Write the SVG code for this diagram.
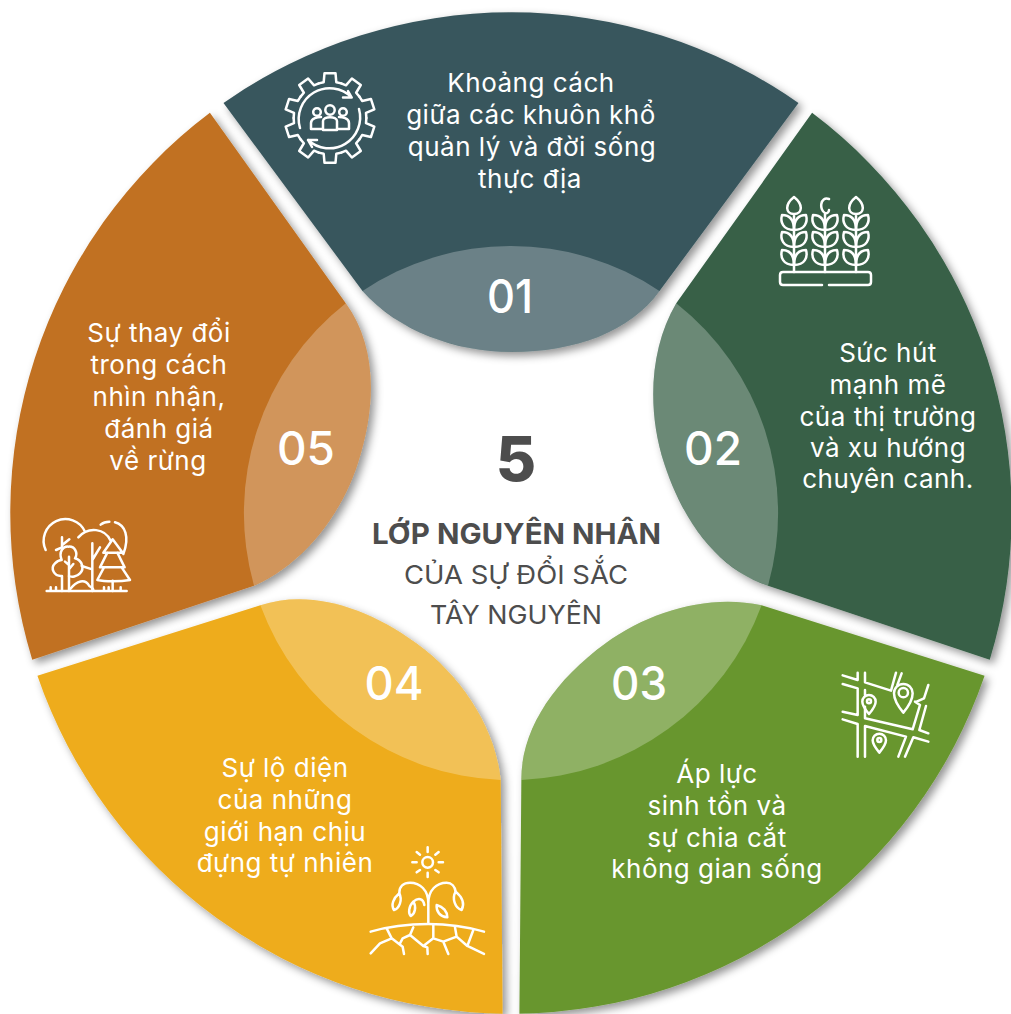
<svg xmlns="http://www.w3.org/2000/svg" xmlns:xlink="http://www.w3.org/1999/xlink" width="1011" height="1014" viewBox="0 0 1011 1014">
<style>
text{font-family:"Inter","Noto Sans","Liberation Sans",sans-serif;text-anchor:middle}
.t{font-size:26px;fill:#fff;font-weight:400;letter-spacing:.5px}
.n{font-size:47px;fill:#fff;font-weight:500}
.c{fill:#4d4d4d}
.ic{fill:none;stroke:#fff;stroke-width:7.5;stroke-linecap:round;stroke-linejoin:round}
.ic1{fill:none;stroke:#fff;stroke-width:2.5;stroke-linecap:round;stroke-linejoin:round}
.lite{fill:#fff;fill-opacity:.26}
</style>
<defs>
<filter id="sh" x="-10%" y="-10%" width="120%" height="120%"><feDropShadow dx="4" dy="4" stdDeviation="4" flood-color="#000" flood-opacity=".42"/></filter>
<path id="seg" d="M223.500 103A501 501 0 0 1 798.500 103L659.500 291C630 332 575 352 511 352C456 352 398 331 362.500 291Z"/>
<path id="lobe" d="M659.500 291C630 332 575 352 511 352C456 352 398 331 362.500 291A267 267 0 0 1 659.500 291Z"/>
<path id="tooth" d="M-11.200 -34.600L-6.300 -35.800L-5.500 -44.800H5.500L6.300 -35.800L11.200 -34.600"/>
<path id="leaf" d="M0 0C-11 0-14-8-12-15C-4-15 0-10 0 0ZM0 0C11 0 14-8 12-15C4-15 0-10 0 0Z"/>
</defs>
<rect width="1011" height="1014" fill="#fff"/>
<g id="node-05">
<g filter="url(#sh)"><use href="#seg" transform="rotate(288 511 513)" fill="#c17121"/></g>
<use href="#lobe" transform="rotate(288 511 513)" class="lite"/>
<text class="n" x="306" y="465" textLength="58" lengthAdjust="spacingAndGlyphs">05</text>
<text class="t" x="159" y="342">Sự thay đổi</text>
<text class="t" x="159" y="374">trong cách</text>
<text class="t" x="159" y="406">nhìn nhận,</text>
<text class="t" x="159" y="438">đánh giá</text>
<text class="t" x="158" y="470">về rừng</text>
<g class="ic" transform="translate(30 510) scale(.3333)">
<path d="M50 243H290M62 243V232M78 243V232M222 243V232M236 243V232M272 243V232"/>
<path d="M47 120A60 60 0 0 1 165 65M145 82C175 48 225 55 242 92M212 44C220 37 232 35 238 35M255 37C285 45 300 80 280 132"/>
<path d="M96 243V198C72 200 60 175 75 160C85 150 90 150 95 150C85 125 100 108 115 110C135 108 145 130 135 145C155 150 165 175 150 190C140 200 125 202 117 198"/>
<path d="M96 110V82M96 112L78 120M96 106L118 88M117 243V140M117 165L105 155M117 178L130 162"/>
<path d="M187 243V100M187 150L210 112M187 178L155 168"/>
<path d="M120 238C140 212 165 205 178 228C185 232 190 236 190 240"/>
<path d="M248 88L220 128H278ZM232 128L210 172H284L262 128M222 172L202 210C225 215 270 215 300 210L275 172M248 212V243"/>
</g>
</g>
<g id="node-01">
<g filter="url(#sh)"><use href="#seg" fill="#39575d"/></g>
<use href="#lobe" class="lite"/>
<text class="n" x="510" y="313" textLength="46" lengthAdjust="spacingAndGlyphs">01</text>
<text class="t" x="531" y="92">Khoảng cách</text>
<text class="t" x="531" y="124">giữa các khuôn khổ</text>
<text class="t" x="532" y="156">quản lý và đời sống</text>
<text class="t" x="530" y="188">thực địa</text>
<g class="ic1" transform="translate(330 118)">
<use href="#tooth"/><use href="#tooth" transform="rotate(36)"/><use href="#tooth" transform="rotate(72)"/><use href="#tooth" transform="rotate(108)"/><use href="#tooth" transform="rotate(144)"/><use href="#tooth" transform="rotate(180)"/><use href="#tooth" transform="rotate(216)"/><use href="#tooth" transform="rotate(252)"/><use href="#tooth" transform="rotate(288)"/><use href="#tooth" transform="rotate(324)"/>
<path d="M-30 10A31 31 0 0 1 21.700 -20.700M13 -20.500H21.700L18 -27"/>
<path d="M29 -9A31 31 0 0 1 -22 22M-13 22H-22L-18 29"/>
<circle cx="0" cy="-8" r="4.700"/><circle cx="-13" cy="-6" r="3.800"/><circle cx="13" cy="-6" r="3.800"/>
<path d="M-7 12V3C-7-2 7-2 7 3V12ZM-7 11H-19V5C-19 0-12-1-9-1M7 11H19V5C19 0 12-1 9-1"/>
</g>
</g>
<g id="node-02">
<g filter="url(#sh)"><use href="#seg" transform="rotate(72 511 513)" fill="#376047"/></g>
<use href="#lobe" transform="rotate(72 511 513)" class="lite"/>
<text class="n" x="713" y="465" textLength="58" lengthAdjust="spacingAndGlyphs">02</text>
<text class="t" x="888" y="362">Sức hút</text>
<text class="t" x="888" y="394">mạnh mẽ</text>
<text class="t" x="888" y="426">của thị trường</text>
<text class="t" x="888" y="457">và xu hướng</text>
<text class="t" x="888" y="488">chuyên canh.</text>
<g class="ic1">
<path d="M794 197C784 205 786 214 794 214C802 214 804 205 794 197ZM794 214V272"/>
<path d="M856 197C846 205 848 214 856 214C864 214 866 205 856 197ZM856 214V272"/>
<path d="M829 199C820 196 819 210 825 213C827 214 829 212 829 210M825 213V272"/>
<use href="#leaf" transform="translate(794 230)"/><use href="#leaf" transform="translate(794 247)"/><use href="#leaf" transform="translate(794 265)"/>
<use href="#leaf" transform="translate(825 230)"/><use href="#leaf" transform="translate(825 247)"/><use href="#leaf" transform="translate(825 265)"/>
<use href="#leaf" transform="translate(856 230)"/><use href="#leaf" transform="translate(856 247)"/><use href="#leaf" transform="translate(856 265)"/>
<path d="M822 285H783Q780 285 780 282V275Q780 272 783 272H868Q871 272 871 275V282Q871 285 868 285H829"/>
</g>
</g>
<g id="node-04">
<g filter="url(#sh)"><use href="#seg" transform="rotate(216 511 513)" fill="#eeac1c"/></g>
<use href="#lobe" transform="rotate(216 511 513)" class="lite"/>
<text class="n" x="394" y="700" textLength="59" lengthAdjust="spacingAndGlyphs">04</text>
<text class="t" x="285" y="777">Sự lộ diện</text>
<text class="t" x="285" y="809">của những</text>
<text class="t" x="285" y="841">giới hạn chịu</text>
<text class="t" x="285" y="872">đựng tự nhiên</text>
<g class="ic" transform="translate(360 840) scale(.3333)">
<circle cx="203" cy="67" r="16"/>
<path d="M203 22V36M203 98V111M157 67H170M236 67H249M170 36L180 44M236 36L226 44M170 97L180 90M236 97L226 90"/>
<path d="M205 248V190C205 150 180 128 150 128C130 128 118 140 118 158M205 190C205 150 230 128 260 128C275 128 285 140 287 155"/>
<path d="M118 160C100 175 92 195 102 210C118 205 128 180 118 160ZM287 155C275 175 285 205 305 210C315 190 305 170 287 155Z"/>
<path d="M193 195C190 175 175 172 160 185C145 200 145 220 152 228C165 222 170 200 160 185"/>
<path d="M230 195C228 215 240 230 262 232C262 215 250 200 230 195Z"/>
<path d="M32 275C90 258 150 252 205 252C260 252 320 260 372 275"/>
<path d="M80 265L95 295L60 310L32 340M95 295L128 320L132 342M160 262L150 285L128 295L120 310M150 285L190 318L202 322L203 342M220 255V295L250 305L265 342M190 318L220 295M285 262L290 290L250 305M290 290L322 318L372 342M340 270L322 318"/>
</g>
</g>
<g id="node-03">
<g filter="url(#sh)"><use href="#seg" transform="rotate(144 511 513)" fill="#68962f"/></g>
<use href="#lobe" transform="rotate(144 511 513)" class="lite"/>
<text class="n" x="639" y="700" textLength="56" lengthAdjust="spacingAndGlyphs">03</text>
<text class="t" x="717" y="783">Áp lực</text>
<text class="t" x="717" y="815">sinh tồn và</text>
<text class="t" x="717" y="847">sự chia cắt</text>
<text class="t" x="717" y="878">không gian sống</text>
<g class="ic" transform="translate(820 650) scale(.3333)">
<path d="M68 76L113 90V68M135 68V97L213 122L228 68M245 70L232 105M68 102L113 115V195L68 185M135 170V205L278 238L300 165L285 155M318 168L298 240L325 250M68 208L113 222V320M135 228V320M135 228L258 260L235 320M325 275L280 262L255 320M325 105L312 145L290 155M135 120V135"/>
<path d="M250 188C235 170 222 150 222 130A28 28 0 0 1 278 130C278 150 265 170 250 188Z"/>
<circle cx="250" cy="128" r="14"/>
<path d="M147 192C137 180 127 168 127 155A20 20 0 0 1 167 155C167 168 157 180 147 192Z"/>
<circle cx="147" cy="154" r="6"/>
<path d="M178 308C168 296 158 284 158 271A20 20 0 0 1 198 271C198 284 188 296 178 308Z"/>
<circle cx="178" cy="270" r="6"/>
</g>
</g>
<g id="center">
<text class="c" x="516" y="481" style="font-size:62px;font-weight:800">5</text>
<text class="c" x="516.500" y="544" style="font-size:29px;font-weight:700" textLength="289" lengthAdjust="spacingAndGlyphs">LỚP NGUYÊN NHÂN</text>
<text class="c" x="516" y="584" style="font-size:26px" textLength="224" lengthAdjust="spacingAndGlyphs">CỦA SỰ ĐỔI SẮC</text>
<text class="c" x="516" y="624" style="font-size:26px" textLength="172" lengthAdjust="spacingAndGlyphs">TÂY NGUYÊN</text>
</g>
<g id="connectors"/>
</svg>
